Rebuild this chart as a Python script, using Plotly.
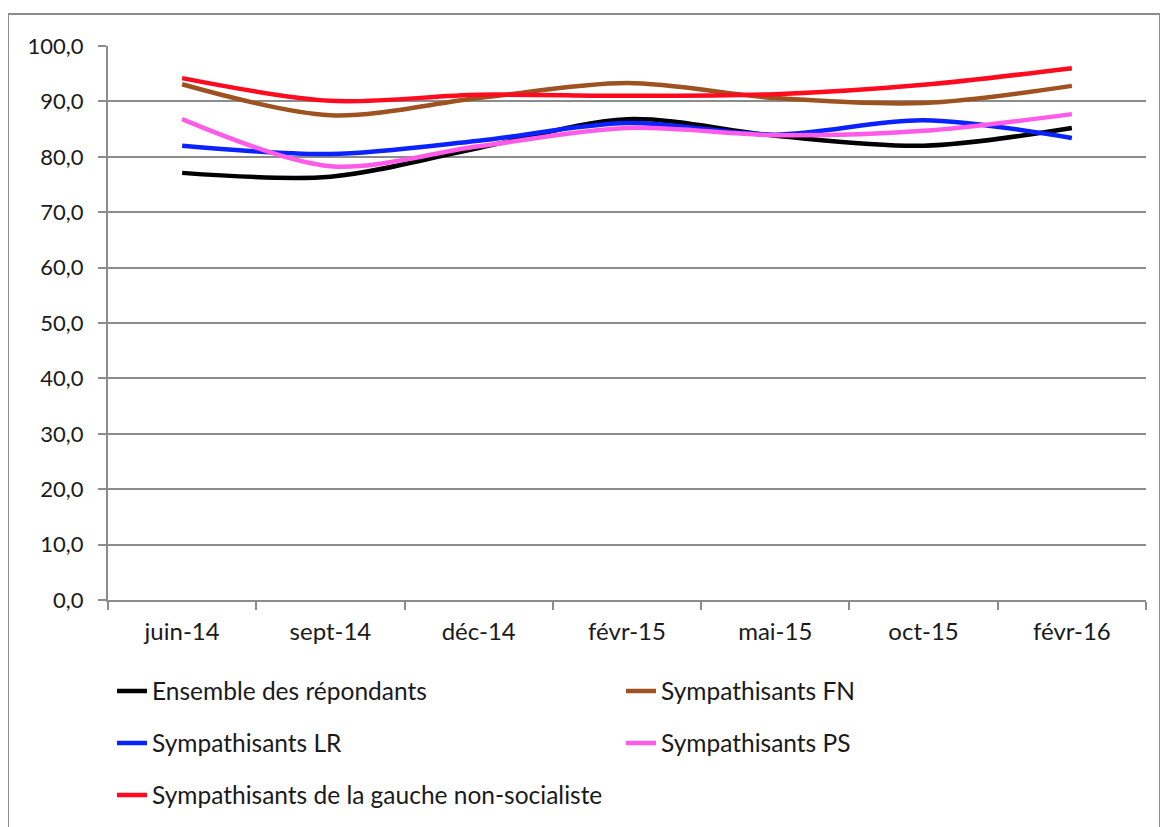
import plotly.graph_objects as go

categories = ["juin-14", "sept-14", "déc-14", "févr-15", "mai-15", "oct-15", "févr-16"]
ensemble = [77.1, 76.4, 81.6, 86.8, 83.8, 82.0, 85.2]
fn = [93.1, 87.5, 90.6, 93.3, 90.6, 89.7, 92.8]
lr = [82.0, 80.5, 82.9, 86.1, 84.0, 86.6, 83.4]
ps = [86.8, 78.3, 81.9, 85.2, 83.9, 84.7, 87.7]
gauche = [94.2, 90.1, 91.2, 91.0, 91.3, 93.0, 96.0]

series = [
    ("Ensemble des répondants", ensemble, "#000000", "legend"),
    ("Sympathisants FN", fn, "#9E5220", "legend"),
    ("Sympathisants LR", lr, "#0A22FF", "legend2"),
    ("Sympathisants PS", ps, "#FF5AE8", "legend2"),
    ("Sympathisants de la gauche non-socialiste", gauche, "#FF0A1E", "legend3"),
]

FONT = "Lato"
TXT = "#1A1A1A"
OFF = 8  # page body margin in the browser

fig = go.Figure()
for name, vals, color, leg in series:
    fig.add_trace(go.Scatter(
        x=categories, y=vals, name=name, mode="lines",
        line=dict(color=color, width=4.5, shape="spline", smoothing=0.9),
        legend=leg,
    ))

W, H = 1168, 827
L, R, T, B = 108 - OFF, W - (1146 - OFF), 46 - OFF, H - (600 - OFF)
pw, ph = W - L - R, H - T - B

def px(x):
    return (x - OFF - L) / pw

def py(y):
    return (H - B - (y - OFF)) / ph

leg_common = dict(orientation="h", entrywidth=464, entrywidthmode="pixels",
                  font=dict(family=FONT, size=24.5, color=TXT),
                  bgcolor="rgba(0,0,0,0)", xanchor="left", yanchor="middle",
                  itemwidth=30, traceorder="normal")

fig.update_layout(
    width=W, height=H,
    margin=dict(l=L, r=R, t=T, b=B, autoexpand=False),
    paper_bgcolor="white", plot_bgcolor="white",
    separators=", ",
    font=dict(family=FONT, size=22, color=TXT),
    showlegend=True,
    legend=dict(x=px(112), y=py(691), **leg_common),
    legend2=dict(x=px(112), y=py(743), **leg_common),
    legend3=dict(x=px(112), y=py(795), **leg_common),
    xaxis=dict(
        type="category", showgrid=False, showline=True, linecolor="#8C8C8C", linewidth=2,
        ticks="outside", tickson="boundaries", ticklen=8, tickwidth=2, tickcolor="#8C8C8C",
        tickfont=dict(family=FONT, size=24, color=TXT), ticklabelstandoff=9,
        range=[-0.5, 6.5], zeroline=False, automargin=False,
    ),
    yaxis=dict(
        range=[0, 100], dtick=10, tickformat=".1f",
        showgrid=True, gridcolor="#8C8C8C", gridwidth=2,
        showline=True, linecolor="#8C8C8C", linewidth=2,
        ticks="outside", ticklen=8, tickwidth=2, tickcolor="#8C8C8C",
        tickfont=dict(family=FONT, size=22, color=TXT), ticklabelstandoff=10,
        zeroline=False, automargin=False,
    ),
    shapes=[dict(type="rect", xref="paper", yref="paper",
                 x0=px(8), x1=px(1160), y0=py(845), y1=py(14),
                 line=dict(color="#8C8C8C", width=2), layer="below")],
)

fig.write_html("out.html")
